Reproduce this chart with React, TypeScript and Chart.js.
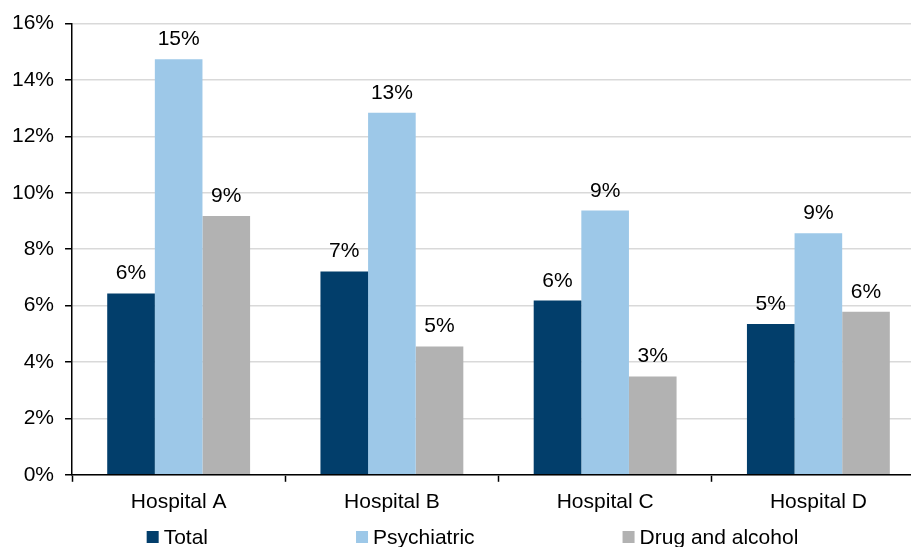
import React, { useEffect, useRef } from "react";
import { Chart, registerables } from "chart.js";

Chart.register(...registerables);

const categories = ["Hospital A", "Hospital B", "Hospital C", "Hospital D"];
const totalValues = [6.43, 7.21, 6.18, 5.35];
const psychiatricValues = [14.74, 12.84, 9.37, 8.57];
const drugAlcoholValues = [9.18, 4.55, 3.49, 5.78];
const seriesNames = ["Total", "Psychiatric", "Drug and alcohol"];
const seriesColors = ["#023E6B", "#9DC8E8", "#B2B2B2"];
const yTicks = [0, 2, 4, 6, 8, 10, 12, 14, 16];

const FONT = "'Liberation Sans', Arial, sans-serif";
const FONT_SIZE = 21;

const labelPlugin = {
  id: "barLabels",
  afterDatasetsDraw(chart: any) {
    const ctx = chart.ctx;
    ctx.save();
    ctx.font = `${FONT_SIZE}px ${FONT}`;
    ctx.fillStyle = "#000";
    ctx.textAlign = "center";
    ctx.textBaseline = "alphabetic";
    chart.data.datasets.forEach((ds: any, i: number) => {
      const meta = chart.getDatasetMeta(i);
      meta.data.forEach((bar: any, j: number) => {
        const v = ds.data[j];
        ctx.fillText(Math.round(v) + "%", bar.x, bar.y - 14);
      });
    });
    ctx.restore();
  },
};

const legendPlugin = {
  id: "customLegend",
  afterDraw(chart: any) {
    const ctx = chart.ctx;
    ctx.save();
    ctx.font = `${FONT_SIZE}px ${FONT}`;
    const box = 12;
    const boxGap = 5;
    const itemGap = 148;
    const items = chart.data.datasets.map((ds: any) => ({
      label: ds.label,
      color: ds.backgroundColor,
      w: box + boxGap + ctx.measureText(ds.label).width,
    }));
    const total = items.reduce((s: number, it: any) => s + it.w, 0) + itemGap * (items.length - 1);
    let x = chart.width / 2 + 10 - total / 2;
    const yc = chart.height - 19;
    ctx.textBaseline = "middle";
    ctx.textAlign = "left";
    items.forEach((it: any) => {
      ctx.fillStyle = it.color;
      ctx.fillRect(x, yc - box / 2, box, box);
      ctx.fillStyle = "#000";
      ctx.fillText(it.label, x + box + boxGap, yc + 1);
      x += it.w + itemGap;
    });
    ctx.restore();
  },
};

export default function App() {
  const ref = useRef<HTMLCanvasElement>(null);
  useEffect(() => {
    if (!ref.current) return;
    const chart = new Chart(ref.current, {
      type: "bar",
      data: {
        labels: categories,
        datasets: [totalValues, psychiatricValues, drugAlcoholValues].map((d, i) => ({
          label: seriesNames[i],
          data: d,
          backgroundColor: seriesColors[i],
          borderWidth: 0,
          categoryPercentage: 0.67,
          barPercentage: 1,
        })),
      },
      options: {
        responsive: false,
        animation: false,
        devicePixelRatio: 1,
        layout: { padding: { left: 1, top: 12, right: 0, bottom: 33 } },
        plugins: {
          tooltip: { enabled: false },
          legend: { display: false },
        },
        scales: {
          x: {
            offset: true,
            grid: {
              display: true,
              drawOnChartArea: false,
              drawTicks: true,
              tickLength: 7,
              tickColor: "#000",
              tickWidth: 1.5,
            },
            border: { color: "#000", width: 1.5 },
            ticks: {
              font: { family: FONT, size: FONT_SIZE },
              color: "#000",
              padding: 8,
            },
          },
          y: {
            min: yTicks[0],
            max: yTicks[yTicks.length - 1],
            afterBuildTicks: (scale: any) => {
              scale.ticks = yTicks.map((v) => ({ value: v }));
            },
            grid: {
              color: "#D9D9D9",
              lineWidth: 1.5,
              tickLength: 7,
              tickColor: "#000",
              tickWidth: 1.5,
            },
            border: { color: "#000", width: 1.5 },
            ticks: {
              autoSkip: false,
              font: { family: FONT, size: FONT_SIZE },
              color: "#000",
              padding: 11,
              callback: (v: any) => v + "%",
            },
          },
        },
      },
      plugins: [labelPlugin, legendPlugin],
    });
    return () => chart.destroy();
  }, []);
  return (
    <div style={{ position: "fixed", left: 0, top: 0, width: 911, height: 547, overflow: "hidden", background: "#fff" }}>
      <canvas ref={ref} width={925} height={556} style={{ display: "block" }} />
    </div>
  );
}
